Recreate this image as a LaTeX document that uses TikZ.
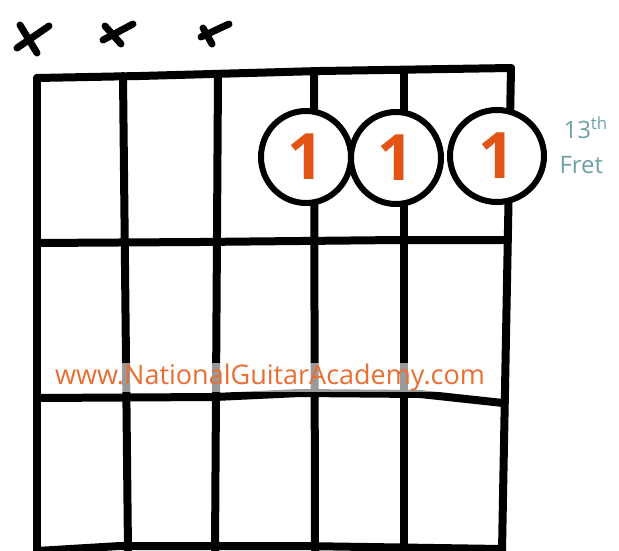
\documentclass[tikz,border=0pt]{standalone}
\usepackage{fontspec}
\usetikzlibrary{shapes.geometric}
\setmainfont{Open Sans}
\definecolor{fing}{RGB}{226,84,22}
\definecolor{web}{RGB}{232,110,50}
\definecolor{fretlbl}{RGB}{110,160,165}
\begin{document}
\begin{tikzpicture}[x=1pt,y=-1pt,
  grid/.style={line width=8pt,line cap=round,line join=round,black},
  xmark/.style={line width=7pt,line cap=round,black},
  dot/.style={ellipse,draw=black,line width=6pt,fill=white,minimum width=#1pt,minimum height=92pt,inner sep=0pt,
     font=\fontsize{64pt}{64pt}\selectfont\bfseries,text=fing},
  weblbl/.style={text=web,font=\fontsize{27pt}{27pt}\selectfont},
  fretl/.style={text=fretlbl,font=\fontsize{24pt}{24pt}\selectfont}]
\useasboundingbox (0,0) rectangle (619,551);
% strings
\coordinate (s1t) at (37,78); \coordinate (s1b) at (37,551);
\coordinate (s2t) at (123,76); \coordinate (s2b) at (128,551);
\coordinate (s3t) at (218,74); \coordinate (s3b) at (215,551);
\coordinate (s4t) at (314,72); \coordinate (s4b) at (315,551);
\coordinate (s5t) at (404,70); \coordinate (s5b) at (404,551);
\coordinate (s6t) at (511,68); \coordinate (s6b) at (502,551);
\draw[grid] (s1t) -- (s1b);
\draw[grid] (s2t) -- (s2b);
\draw[grid] (s3t) -- (s3b);
\draw[grid] (s4t) -- (s4b);
\draw[grid] (s5t) -- (s5b);
\draw[grid] (s6t) -- (s6b);
% nut and frets
\draw[grid] (s1t) -- (140,76) -- (320,71) -- (s6t);
\draw[grid] (37,243) -- (200,242) -- (400,240) -- (503,240);
\draw[grid] (37,398) -- (215,397) -- (300,393) -- (420,394) -- (503,403);
\draw[grid] (37,551) -- (120,546) -- (300,546) -- (502,549);
% muted marks
\draw[xmark] (20,25) -- (37,53);
\draw[xmark] (49,26) -- (17,48);
\draw[xmark] (105,26) -- (121,44);
\draw[xmark] (133,24) -- (103,40);
\draw[xmark] (203,28) -- (212,44);
\draw[xmark] (229,24) -- (201,37);
% fingers
\node[dot=90] (f1) at (306,157) {\raisebox{-2pt}{1}};
\node[dot=90] (f2) at (396,158) {\raisebox{-2pt}{1}};
\node[dot=94] (f3) at (497,156) {\raisebox{-2pt}{1}};
% labels
\node[weblbl,fill=white,fill opacity=0.6,text opacity=1,inner sep=1pt] (web) at (270,377) {www.NationalGuitarAcademy.com};
\node[fretl,anchor=west] (l13) at (560,128) {13\textsuperscript{th}};
\node[fretl,anchor=west] (lfret) at (556,165) {Fret};
\end{tikzpicture}
\end{document}
